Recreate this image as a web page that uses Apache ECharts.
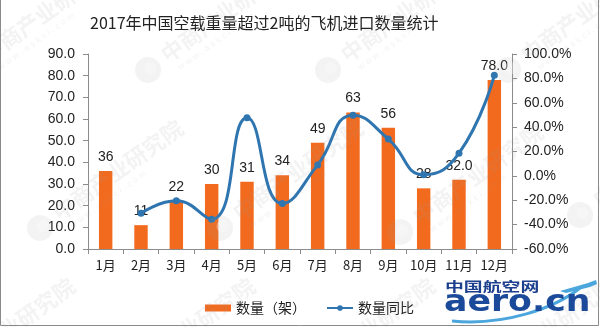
<!DOCTYPE html>
<html>
<head>
<meta charset="utf-8">
<script src="https://cdn.jsdelivr.net/npm/echarts@6/dist/echarts.min.js"></script>
<style>
  html, body { margin: 0; padding: 0; background: #fff; }
  #chart { width: 600px; height: 327px; }
</style>
</head>
<body>
<div id="chart"></div>
<script>
// Monthly imports of aircraft over 2 t empty weight, 2017
const months = ['1月', '2月', '3月', '4月', '5月', '6月', '7月', '8月', '9月', '10月', '11月', '12月'];
const counts = [36, 11, 22, 30, 31, 34, 49, 63, 56, 28, 32, 78];
const countDecimals = [0, 0, 0, 0, 0, 0, 0, 0, 0, 0, 1, 1];
const yoyPct = [null, -30.6, -20.5, -35.5, 47.6, -22.7, 9.0, 49.8, 30.2, 0.9, 18.6, 82.6];
const countTicks = { min: 0, max: 90, step: 10 };
const pctTicks = { min: -60, max: 100, step: 20 };

const FONT = '"Liberation Sans", "Noto Sans CJK SC", sans-serif';
const CJK = '"Noto Sans CJK SC", sans-serif';
const AXIS = '#8c8c8c';
const BAR = '#F26A1E';
const LINE = '#2F75B0';

// Faint diagonal source stamps tiled across the canvas
const stampSpots = [
  [-32, 70], [148, 70], [328, 70], [508, 70],
  [40, 228], [220, 228], [400, 232], [580, 215],
  [-68, 386], [112, 386], [292, 386], [472, 386]
];
const STAMP = 'rgba(160,160,160,0.12)';
function stamp(x, y) {
  return {
    type: 'group',
    x: x, y: y,
    rotation: 0.62,
    silent: true,
    z: 100,
    children: [
      { type: 'circle', shape: { cx: 0, cy: 0, r: 13 }, style: { fill: STAMP }, z: 100 },
      { type: 'circle', shape: { cx: 3, cy: 0, r: 6 }, style: { fill: 'rgba(255,255,255,0.3)' }, z: 100 },
      {
        type: 'text', x: 20, y: -13, z: 100,
        style: { text: '中商产业研究院', font: 'bold 22px "Noto Sans CJK SC", sans-serif', fill: STAMP }
      },
      {
        type: 'text', x: 26, y: 12, z: 100,
        style: { text: 'w w w . a s k c i . c o m', font: '9px "Liberation Sans", sans-serif', fill: STAMP }
      }
    ]
  };
}

const chart = echarts.init(document.getElementById('chart'), null, { renderer: 'canvas' });

chart.setOption({
  backgroundColor: '#fff',
  animation: false,
  title: {
    text: '2017年中国空载重量超过2吨的飞机进口数量统计',
    left: 85,
    top: 10,
    textStyle: { fontFamily: CJK, fontSize: 16, fontWeight: 'normal', color: '#222' }
  },
  grid: { left: 88, right: 88, top: 54, bottom: 78 },
  legend: {
    left: 200,
    top: 296,
    itemWidth: 26,
    itemHeight: 7,
    itemGap: 20,
    textStyle: { fontFamily: CJK, fontSize: 14, color: '#222' },
    data: [
      { name: '数量（架）', icon: 'rect' },
      { name: '数量同比' }
    ]
  },
  xAxis: {
    type: 'category',
    data: months,
    boundaryGap: true,
    axisLine: { lineStyle: { color: AXIS, width: 1 } },
    axisTick: { show: true, alignWithLabel: false, length: 5, lineStyle: { color: AXIS } },
    axisLabel: { fontFamily: CJK, fontSize: 13, color: '#222', margin: 10, interval: 0 }
  },
  yAxis: [
    {
      type: 'value',
      min: countTicks.min, max: countTicks.max, interval: countTicks.step,
      axisLine: { show: true, lineStyle: { color: AXIS } },
      axisTick: { show: true, length: 5, lineStyle: { color: AXIS } },
      splitLine: { show: false },
      axisLabel: {
        fontFamily: FONT, fontSize: 14, color: '#222', margin: 13,
        formatter: v => v.toFixed(1)
      }
    },
    {
      type: 'value',
      min: pctTicks.min, max: pctTicks.max, interval: pctTicks.step,
      axisLine: { show: true, lineStyle: { color: AXIS } },
      axisTick: { show: true, length: 5, lineStyle: { color: AXIS } },
      splitLine: { show: false },
      axisLabel: {
        fontFamily: FONT, fontSize: 14, color: '#222', margin: 12,
        formatter: v => v.toFixed(1) + '%'
      }
    }
  ],
  series: [
    {
      name: '数量（架）',
      type: 'bar',
      data: counts,
      barWidth: '38%',
      itemStyle: { color: BAR },
      label: {
        show: true,
        position: 'top',
        distance: 7,
        fontFamily: FONT,
        fontSize: 14,
        color: '#222',
        formatter: p => p.value.toFixed(countDecimals[p.dataIndex])
      },
      z: 2
    },
    {
      name: '数量同比',
      type: 'line',
      yAxisIndex: 1,
      data: yoyPct,
      smooth: 0.5,
      connectNulls: false,
      symbol: 'circle',
      symbolSize: 7,
      lineStyle: { color: LINE, width: 3 },
      itemStyle: { color: LINE },
      z: 3
    }
  ],
  graphic: stampSpots.map(p => stamp(p[0], p[1])).concat([
    {
      type: 'polyline',
      shape: { points: [[0.5, 0], [0.5, 325.5], [598.5, 325.5], [598.5, 0]] },
      style: { fill: 'none', stroke: '#8a8a8a', lineWidth: 1 },
      silent: true,
      z: 101
    },
    {
      type: 'text',
      x: 445,
      y: 280,
      scaleX: 1.45,
      z: 102,
      style: {
        text: '中国航空网',
        font: 'bold 13px "Noto Sans CJK SC", sans-serif',
        fill: '#1c3f8e'
      }
    },
    {
      type: 'bezierCurve',
      z: 102,
      shape: { x1: 452, y1: 321, cpx1: 505, cpy1: 326, cpx2: 555, cpy2: 308, x2: 580, y2: 288 },
      style: { stroke: '#4aa6dc', lineWidth: 3, fill: 'none' }
    },
    {
      type: 'text',
      x: 444,
      y: 287,
      scaleX: 1.12,
      z: 103,
      style: {
        text: 'aero.cn',
        font: 'bold 31px "DejaVu Sans", sans-serif',
        fill: '#1c4a9a'
      }
    },
    {
      type: 'polygon',
      z: 102,
      shape: { points: [[560, 291], [588, 283], [596, 280], [597, 284], [590, 287], [566, 293]] },
      style: { fill: '#4aa6dc' }
    }
  ])
});
</script>
</body>
</html>
